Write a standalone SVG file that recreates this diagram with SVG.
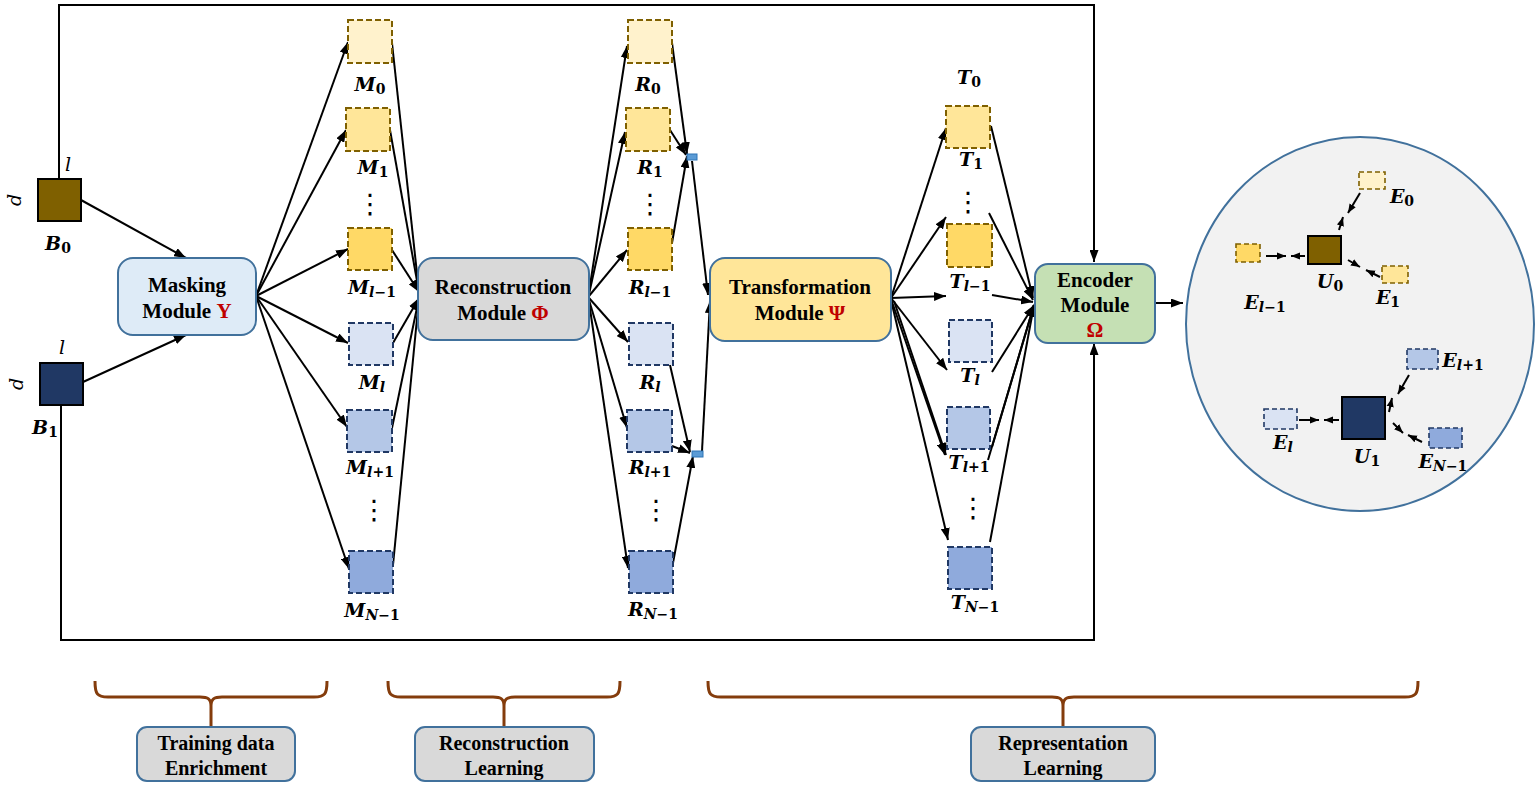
<svg xmlns="http://www.w3.org/2000/svg" width="1538" height="788" viewBox="0 0 1538 788">
<defs>
<marker id="ah" viewBox="0 0 12 9" refX="12" refY="4.5" markerWidth="12" markerHeight="9" markerUnits="userSpaceOnUse" orient="auto">
<path d="M0,0 L12,4.5 L0,9 z" fill="#000"/>
</marker>
<marker id="ahs" viewBox="0 0 10 8" refX="10" refY="4" markerWidth="9" markerHeight="8" markerUnits="userSpaceOnUse" orient="auto">
<path d="M0,0 L10,4 L0,8 z" fill="#000"/>
</marker>
</defs>
<style>
.mod{stroke:#41719C;stroke-width:2}
.mt{font-family:"Liberation Serif","Times New Roman",serif;font-weight:bold;font-size:21px;fill:#000;text-anchor:middle}
.bt{font-family:"Liberation Serif","Times New Roman",serif;font-weight:bold;font-size:20px;fill:#000;text-anchor:middle}
.red{fill:#C00000}
.lab{font-family:"DejaVu Serif",serif;font-weight:bold;font-style:italic;font-size:19px;fill:#000;text-anchor:middle}
.sub{font-size:14px;font-style:normal}
.subi{font-size:14px;font-style:italic}
.sm{font-family:"DejaVu Serif",serif;font-style:italic;font-size:19px;fill:#000;text-anchor:middle}
.dots{font-family:"DejaVu Sans",sans-serif;font-size:27px;fill:#000;text-anchor:middle}
.dy{stroke:#7F6000;stroke-width:2;stroke-dasharray:6,3}
.db{stroke:#203864;stroke-width:2;stroke-dasharray:6,3}
.dye{stroke:#7F6000;stroke-width:1.6;stroke-dasharray:5,3}
.dbe{stroke:#203864;stroke-width:1.6;stroke-dasharray:5,3}
.c0{fill:#FFF2CC}.c1{fill:#FFE699}.c2{fill:#FFD966}
.c3{fill:#DAE3F3}.c4{fill:#B4C7E7}.c5{fill:#8FAADC}
.ln{stroke:#000;stroke-width:2;fill:none;marker-end:url(#ah)}
.lns{stroke:#000;stroke-width:2;fill:none;marker-end:url(#ahs)}
.brace{stroke:#843C0C;stroke-width:3;fill:none}
</style>

<g id="connectors">
<polyline class="ln" points="59,179 59,5 1094,5 1094,262"/>
<polyline class="ln" points="61,405 61,640 1094,640 1094,343"/>
<line class="ln" x1="81" y1="200" x2="186" y2="258"/>
<line class="ln" x1="83" y1="382" x2="186" y2="335"/>
<line class="ln" x1="256" y1="296" x2="348" y2="42"/>
<line class="ln" x1="256" y1="296" x2="346" y2="130"/>
<line class="ln" x1="256" y1="296" x2="348" y2="249"/>
<line class="ln" x1="256" y1="296" x2="348" y2="343"/>
<line class="ln" x1="256" y1="296" x2="347" y2="427"/>
<line class="ln" x1="256" y1="296" x2="349" y2="569"/>
<line class="ln" x1="392" y1="43" x2="419" y2="292"/>
<line class="ln" x1="390" y1="130" x2="419" y2="292"/>
<line class="ln" x1="392" y1="250" x2="419" y2="292"/>
<line class="ln" x1="393" y1="343" x2="419" y2="298"/>
<line class="ln" x1="392" y1="428" x2="419" y2="298"/>
<line class="ln" x1="393" y1="565" x2="419" y2="298"/>
<line class="ln" x1="589" y1="292" x2="627" y2="46"/>
<line class="ln" x1="589" y1="294" x2="625" y2="132"/>
<line class="ln" x1="589" y1="296" x2="627" y2="250"/>
<line class="ln" x1="589" y1="298" x2="628" y2="342"/>
<line class="ln" x1="589" y1="300" x2="627" y2="428"/>
<line class="ln" x1="589" y1="302" x2="628" y2="568"/>
<line class="ln" x1="672" y1="43" x2="687" y2="154"/>
<line class="ln" x1="670" y1="130" x2="686" y2="155"/>
<line class="ln" x1="672" y1="243" x2="687" y2="156"/>
<line class="ln" x1="692" y1="161" x2="708" y2="295"/>
<line class="ln" x1="702" y1="451" x2="710" y2="301"/>
<line class="ln" x1="670" y1="365" x2="690" y2="452"/>
<line class="ln" x1="672" y1="446" x2="690" y2="453"/>
<line class="ln" x1="673" y1="563" x2="693" y2="456"/>
<line class="ln" x1="891" y1="298" x2="946" y2="128"/>
<line class="ln" x1="891" y1="298" x2="946" y2="217"/>
<line class="ln" x1="891" y1="298" x2="946" y2="296"/>
<line class="ln" x1="891" y1="298" x2="947" y2="370"/>
<line class="ln" x1="891" y1="299" x2="945" y2="455"/>
<line class="ln" x1="894" y1="301" x2="946" y2="455"/>
<line class="ln" x1="891" y1="300" x2="948" y2="540"/>
<line class="ln" x1="991" y1="126" x2="1033" y2="298"/>
<line class="ln" x1="989" y1="213" x2="1033" y2="300"/>
<line class="ln" x1="992" y1="295" x2="1033" y2="302"/>
<line class="ln" x1="992" y1="372" x2="1034" y2="305"/>
<line class="ln" x1="992" y1="447" x2="1034" y2="305"/>
<line class="ln" x1="988" y1="460" x2="1034" y2="305"/>
<line class="ln" x1="990" y1="542" x2="1034" y2="305"/>
<line class="ln" x1="1155" y1="303" x2="1183" y2="303"/>
</g>

<g id="B0">
<rect x="38" y="179" width="43" height="42" fill="#7F6000" stroke="#000" stroke-width="2"/>
<text class="sm" x="68" y="171">l</text>
<text class="sm" x="0" y="0" transform="translate(21,200) rotate(-90)">d</text>
<text class="lab" x="58" y="250">B<tspan class="sub" dy="3">0</tspan></text>
</g>
<g id="B1">
<rect x="40" y="363" width="43" height="42" fill="#203864" stroke="#000" stroke-width="2"/>
<text class="sm" x="62" y="354">l</text>
<text class="sm" x="0" y="0" transform="translate(23,384) rotate(-90)">d</text>
<text class="lab" x="45" y="434">B<tspan class="sub" dy="3">1</tspan></text>
</g>

<g id="masking">
<rect class="mod" x="118" y="258" width="138" height="77" rx="15" fill="#DEEBF7"/>
<text class="mt" x="187" y="292">Masking</text>
<text class="mt" x="187" y="318">Module <tspan class="red">Υ</tspan></text>
</g>

<g id="M-column">
<rect class="dy c0" x="348" y="20" width="44" height="43"/>
<text class="lab" x="370" y="91">M<tspan class="sub" dy="3">0</tspan></text>
<rect class="dy c1" x="346" y="108" width="44" height="43"/>
<text class="lab" x="373" y="174">M<tspan class="sub" dy="3">1</tspan></text>
<text class="dots" x="370" y="213">⋮</text>
<rect class="dy c2" x="348" y="228" width="44" height="42"/>
<text class="lab" x="372" y="294">M<tspan class="subi" dy="3">l</tspan><tspan class="sub">−1</tspan></text>
<rect class="db c3" x="349" y="323" width="44" height="42"/>
<text class="lab" x="372" y="389">M<tspan class="subi" dy="3">l</tspan></text>
<rect class="db c4" x="347" y="410" width="45" height="42"/>
<text class="lab" x="370" y="474">M<tspan class="subi" dy="3">l</tspan><tspan class="sub">+1</tspan></text>
<text class="dots" x="374" y="519">⋮</text>
<rect class="db c5" x="349" y="551" width="44" height="42"/>
<text class="lab" x="372" y="617">M<tspan class="subi" dy="3">N</tspan><tspan class="sub">−1</tspan></text>
</g>

<g id="reconstruction">
<rect class="mod" x="418" y="258" width="171" height="82" rx="15" fill="#D9D9D9"/>
<text class="mt" x="503" y="294">Reconstruction</text>
<text class="mt" x="503" y="320">Module <tspan class="red">Φ</tspan></text>
</g>

<g id="R-column">
<rect class="dy c0" x="628" y="20" width="44" height="43"/>
<text class="lab" x="648" y="91">R<tspan class="sub" dy="3">0</tspan></text>
<rect class="dy c1" x="626" y="108" width="44" height="43"/>
<text class="lab" x="650" y="174">R<tspan class="sub" dy="3">1</tspan></text>
<text class="dots" x="650" y="213">⋮</text>
<rect class="dy c2" x="628" y="228" width="44" height="42"/>
<text class="lab" x="650" y="294">R<tspan class="subi" dy="3">l</tspan><tspan class="sub">−1</tspan></text>
<rect class="db c3" x="629" y="323" width="44" height="42"/>
<text class="lab" x="650" y="389">R<tspan class="subi" dy="3">l</tspan></text>
<rect class="db c4" x="627" y="410" width="45" height="42"/>
<text class="lab" x="650" y="474">R<tspan class="subi" dy="3">l</tspan><tspan class="sub">+1</tspan></text>
<text class="dots" x="656" y="519">⋮</text>
<rect class="db c5" x="629" y="551" width="44" height="42"/>
<text class="lab" x="653" y="616">R<tspan class="subi" dy="3">N</tspan><tspan class="sub">−1</tspan></text>
</g>

<g id="junctions">
<rect x="687" y="154" width="10" height="6" fill="#5B9BD5" stroke="#2E75B6" stroke-width="1"/>
<rect x="692" y="451" width="11" height="6" fill="#5B9BD5" stroke="#2E75B6" stroke-width="1"/>
</g>

<g id="transformation">
<rect class="mod" x="710" y="258" width="181" height="83" rx="15" fill="#FFE699"/>
<text class="mt" x="800" y="294">Transformation</text>
<text class="mt" x="800" y="320">Module <tspan class="red">Ψ</tspan></text>
</g>

<g id="T-column">
<text class="lab" x="969" y="84">T<tspan class="sub" dy="3">0</tspan></text>
<rect class="dy c1" x="946" y="106" width="44" height="42"/>
<text class="lab" x="971" y="166">T<tspan class="sub" dy="3">1</tspan></text>
<text class="dots" x="968" y="211">⋮</text>
<rect class="dy c2" x="947" y="224" width="45" height="43"/>
<text class="lab" x="970" y="288">T<tspan class="subi" dy="3">l</tspan><tspan class="sub">−1</tspan></text>
<rect class="db c3" x="949" y="320" width="43" height="42"/>
<text class="lab" x="970" y="382">T<tspan class="subi" dy="3">l</tspan></text>
<rect class="db c4" x="947" y="407" width="43" height="42"/>
<text class="lab" x="969" y="469">T<tspan class="subi" dy="3">l</tspan><tspan class="sub">+1</tspan></text>
<text class="dots" x="973" y="517">⋮</text>
<rect class="db c5" x="948" y="547" width="44" height="42"/>
<text class="lab" x="975" y="609">T<tspan class="subi" dy="3">N</tspan><tspan class="sub">−1</tspan></text>
</g>

<g id="encoder">
<rect class="mod" x="1035" y="264" width="120" height="79" rx="13" fill="#C5E0B4"/>
<text class="mt" x="1095" y="287">Encoder</text>
<text class="mt" x="1095" y="312">Module</text>
<text class="mt red" x="1095" y="337">Ω</text>
</g>

<g id="embedding-space">
<ellipse cx="1360" cy="324" rx="174" ry="187" fill="#F2F2F2" stroke="#41719C" stroke-width="2"/>
<rect x="1308" y="236" width="33" height="28" fill="#7F6000" stroke="#000" stroke-width="2"/>
<text class="lab" x="1330" y="288">U<tspan class="sub" dy="3">0</tspan></text>
<rect class="dye c0" x="1359" y="172" width="26" height="17"/>
<text class="lab" x="1402" y="203">E<tspan class="sub" dy="3">0</tspan></text>
<rect class="dye c2" x="1236" y="244" width="24" height="18"/>
<text class="lab" x="1265" y="309">E<tspan class="subi" dy="3">l</tspan><tspan class="sub">−1</tspan></text>
<rect class="dye c1" x="1382" y="266" width="26" height="17"/>
<text class="lab" x="1388" y="304">E<tspan class="sub" dy="3">1</tspan></text>
<line class="lns" x1="1360" y1="193" x2="1348" y2="213"/>
<line class="lns" x1="1339" y1="230" x2="1343" y2="217"/>
<line class="lns" x1="1266" y1="256" x2="1286" y2="256"/>
<line class="lns" x1="1305" y1="256" x2="1291" y2="256"/>
<line class="lns" x1="1348" y1="260" x2="1360" y2="267"/>
<line class="lns" x1="1380" y1="277" x2="1366" y2="270"/>
<rect x="1342" y="397" width="43" height="42" fill="#203864" stroke="#000" stroke-width="2"/>
<text class="lab" x="1367" y="463">U<tspan class="sub" dy="3">1</tspan></text>
<rect class="dbe c4" x="1407" y="349" width="31" height="20"/>
<text class="lab" x="1463" y="367">E<tspan class="subi" dy="3">l</tspan><tspan class="sub">+1</tspan></text>
<rect class="dbe c3" x="1264" y="409" width="33" height="20"/>
<text class="lab" x="1283" y="449">E<tspan class="subi" dy="3">l</tspan></text>
<rect class="dbe c5" x="1429" y="428" width="33" height="20"/>
<text class="lab" x="1443" y="468">E<tspan class="subi" dy="3">N</tspan><tspan class="sub">−1</tspan></text>
<line class="lns" x1="1409" y1="375" x2="1398" y2="394"/>
<line class="lns" x1="1389" y1="412" x2="1392" y2="398"/>
<line class="lns" x1="1299" y1="420" x2="1319" y2="420"/>
<line class="lns" x1="1339" y1="420" x2="1324" y2="420"/>
<line class="lns" x1="1393" y1="423" x2="1403" y2="433"/>
<line class="lns" x1="1422" y1="442" x2="1408" y2="435"/>
</g>

<g id="stage-training">
<path class="brace" d="M95,681 C95,694 97,697 108,697 L200,697 C208,697 211,699 211,706 C211,699 214,697 222,697 L314,697 C325,697 327,694 327,681 M211,700 L211,727"/>
<rect class="mod" x="137" y="727" width="158" height="54" rx="10" fill="#D9D9D9"/>
<text class="bt" x="216" y="750">Training data</text>
<text class="bt" x="216" y="775">Enrichment</text>
</g>
<g id="stage-reconstruction">
<path class="brace" d="M388,681 C388,694 390,697 401,697 L493,697 C501,697 504,699 504,706 C504,699 507,697 515,697 L607,697 C618,697 620,694 620,681 M504,700 L504,727"/>
<rect class="mod" x="415" y="727" width="179" height="54" rx="10" fill="#D9D9D9"/>
<text class="bt" x="504" y="750">Reconstruction</text>
<text class="bt" x="504" y="775">Learning</text>
</g>
<g id="stage-representation">
<path class="brace" d="M708,681 C708,694 710,697 721,697 L1052,697 C1060,697 1063,699 1063,706 C1063,699 1066,697 1074,697 L1405,697 C1416,697 1418,694 1418,681 M1063,700 L1063,727"/>
<rect class="mod" x="971" y="727" width="184" height="54" rx="10" fill="#D9D9D9"/>
<text class="bt" x="1063" y="750">Representation</text>
<text class="bt" x="1063" y="775">Learning</text>
</g>
</svg>
